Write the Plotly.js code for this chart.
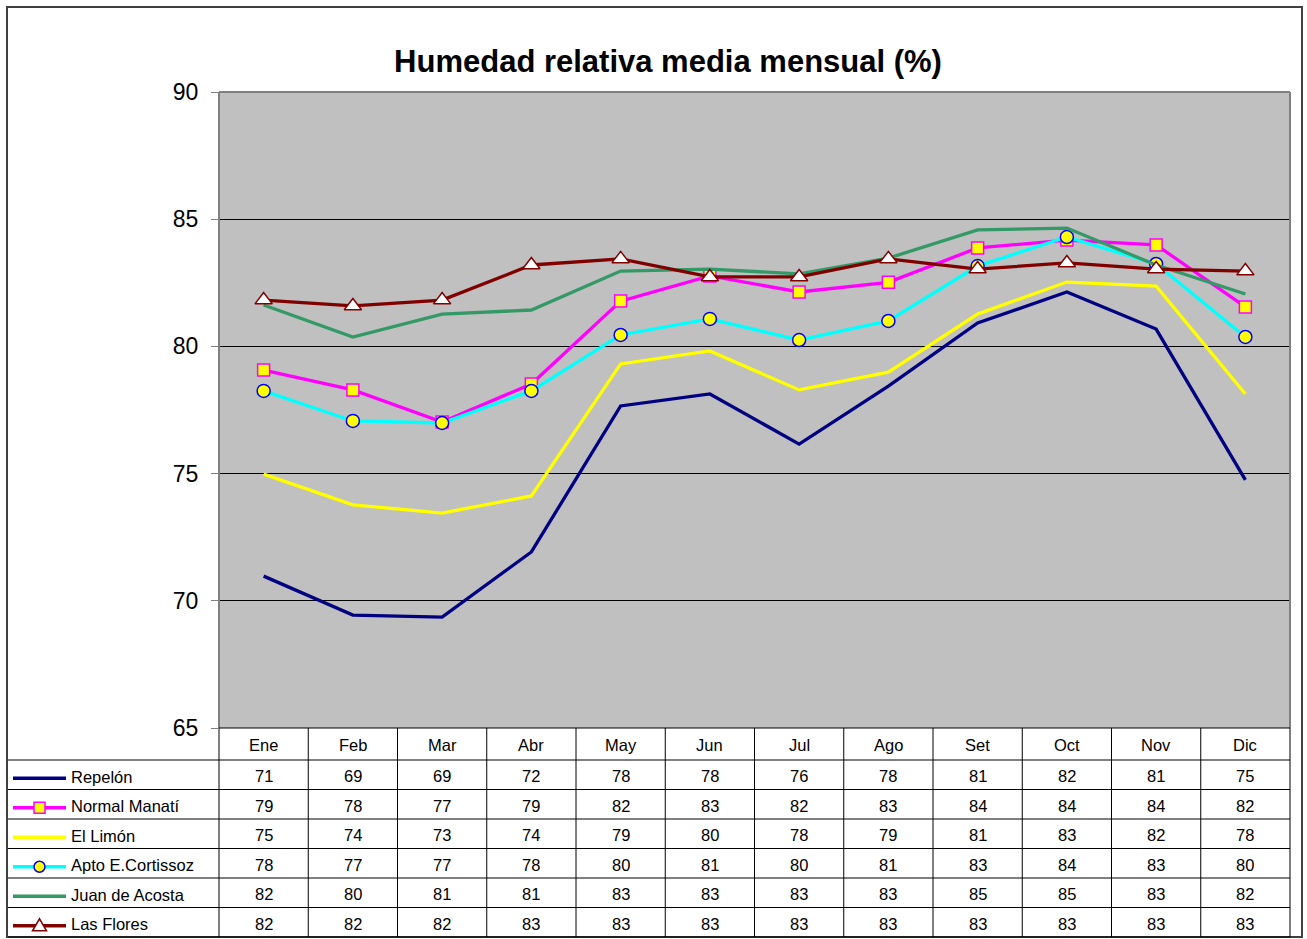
<!DOCTYPE html>
<html>
<head>
<meta charset="utf-8">
<script src="https://cdn.plot.ly/plotly-3.0.1.min.js"></script>
<style>html,body{margin:0;padding:0;background:#fff;}#chart{width:1307px;height:939px;}</style>
</head>
<body>
<div id="chart"></div>
<script>
const months = ['Ene','Feb','Mar','Abr','May','Jun','Jul','Ago','Set','Oct','Nov','Dic'];
const repelon = [70.97,69.44,69.36,71.92,77.66,78.13,76.16,78.44,80.92,82.14,80.68,74.75];
const normalManati = [79.07,78.29,77.03,78.52,81.78,82.77,82.14,82.52,83.87,84.18,83.99,81.55];
const elLimon = [74.98,73.77,73.45,74.12,79.31,79.82,78.29,78.99,81.27,82.53,82.37,78.13];
const aptoCortissoz = [78.25,77.07,76.99,78.25,80.45,81.08,80.25,81.00,83.16,84.30,83.24,80.37];
const juanDeAcosta = [81.63,80.37,81.27,81.43,82.96,83.04,82.85,83.47,84.58,84.65,83.20,82.06];
const lasFlores = [81.82,81.59,81.82,83.20,83.44,82.73,82.73,83.44,83.04,83.28,83.04,82.96];
const seriesNames = ['Repelón','Normal Manatí','El Limón','Apto E.Cortissoz','Juan de Acosta','Las Flores'];
const titleText = 'Humedad relativa media mensual (%)';

const FONT = 'Arial, "Liberation Sans", sans-serif';
const W = 1307, H = 939, L = 219, R = 1290, T = 92, B = 728;
const px = x => (x - L) / (R - L);
const py = y => (B - y) / (B - T);

const styles = [
  {color:'#000080', marker:null},
  {color:'#FF00FF', marker:{symbol:'square', size:12, color:'#FFFF00', line:{color:'#FF00FF', width:1.5}}},
  {color:'#FFFF00', marker:null},
  {color:'#00FFFF', marker:{symbol:'circle', size:13, color:'#FFFF00', line:{color:'#0000FF', width:1.5}}},
  {color:'#339966', marker:null},
  {color:'#800000', marker:{symbol:'triangle-up', size:15, color:'#FFFFFF', line:{color:'#800000', width:1.5}}}
];
const seriesData = [repelon, normalManati, elLimon, aptoCortissoz, juanDeAcosta, lasFlores];

const traces = seriesData.map((vals, i) => {
  const t = {
    type:'scatter', x: months, y: vals, name: seriesNames[i],
    mode: styles[i].marker ? 'lines+markers' : 'lines',
    line:{color: styles[i].color, width:3.3},
    hoverinfo:'x+y+name'
  };
  if (styles[i].marker) t.marker = styles[i].marker;
  return t;
});

const shapes = [];
const annotations = [];
function line(x0,y0,x1,y1,color,width){
  shapes.push({type:'line', xref:'paper', yref:'paper', x0:px(x0), y0:py(y0), x1:px(x1), y1:py(y1), line:{color:color, width:width}});
}
// outer chart border
shapes.push({type:'rect', xref:'paper', yref:'paper', x0:px(7), x1:px(1302), y0:py(7), y1:py(937), line:{color:'#404040', width:2}});
// plot area border
line(L, T, R, T, '#808080', 2);
line(L, T, L, B, '#808080', 2);
line(R, T, R, B, '#808080', 2);
line(L, B, R, B, '#000000', 1);

// table geometry
const headerBottom = 760;
const rowH = 29.5;
const tableBottom = 937;
const colW = (R - L) / months.length;
for (let k = 0; k <= months.length; k++) {
  const xx = L + k * colW;
  line(xx, B, xx, tableBottom, '#000000', 1);
}
for (let r = 0; r < seriesNames.length; r++) {
  const yy = headerBottom + r * rowH;
  line(8, yy, R, yy, '#000000', 1);
}
line(8, tableBottom, R, tableBottom, '#000000', 1);

const TF = {family:FONT, size:16.5, color:'#000'};
// header months
months.forEach((m, i) => {
  annotations.push({xref:'x', yref:'paper', x:m, y:py(745), text:m, showarrow:false,
    xanchor:'center', yanchor:'middle', font:TF});
});

// rows
seriesNames.forEach((name, r) => {
  const cy = headerBottom + r * rowH + rowH / 2;
  annotations.push({xref:'paper', yref:'paper', x:px(69), y:py(cy+2), text:name, showarrow:false,
    xanchor:'left', yanchor:'middle', font:TF});
  seriesData[r].forEach((v, i) => {
    annotations.push({xref:'x', yref:'paper', x:months[i], y:py(cy+1.5), text:String(Math.round(v)), showarrow:false,
      xanchor:'center', yanchor:'middle', font:TF});
  });
  // legend key
  const ly = cy + 3.5;
  line(13, ly, 66, ly, styles[r].color, 3.5);
  const mx = 39.5, s = 5.5;
  const mk = styles[r].marker;
  if (mk && mk.symbol === 'square') {
    shapes.push({type:'rect', xref:'paper', yref:'paper', x0:px(mx-s), x1:px(mx+s), y0:py(ly-s), y1:py(ly+s),
      fillcolor:mk.color, line:{color:mk.line.color, width:1.5}});
  } else if (mk && mk.symbol === 'circle') {
    shapes.push({type:'circle', xref:'paper', yref:'paper', x0:px(mx-s), x1:px(mx+s), y0:py(ly-s), y1:py(ly+s),
      fillcolor:mk.color, line:{color:mk.line.color, width:1.5}});
  } else if (mk && mk.symbol === 'triangle-up') {
    const p = `M ${px(mx-7)},${py(ly+5)} L ${px(mx+7)},${py(ly+5)} L ${px(mx)},${py(ly-7)} Z`;
    shapes.push({type:'path', xref:'paper', yref:'paper', path:p, fillcolor:mk.color, line:{color:mk.line.color, width:1.5}});
  }
});

const layout = {
  width: W, height: H, autosize:false,
  margin:{l:L, r:W-R, t:T, b:H-B, pad:0},
  paper_bgcolor:'#FFFFFF', plot_bgcolor:'#C0C0C0',
  showlegend:false,
  font:{family:FONT, color:'#000'},
  title:{text:'<b>'+titleText+'</b>', font:{family:FONT, size:31, color:'#000'},
    x:668/W, xref:'container', xanchor:'center', y:1-61/H, yref:'container', yanchor:'middle'},
  xaxis:{type:'category', range:[-0.5, months.length-0.5], showticklabels:false, ticks:'',
    showgrid:false, zeroline:false, showline:false, fixedrange:true},
  yaxis:{range:[65,90], tick0:65, dtick:5, ticks:'outside', ticklen:7, tickcolor:'#808080', tickwidth:1,
    showgrid:true, gridcolor:'#000000', gridwidth:1, zeroline:false, showline:false,
    tickfont:{family:FONT, size:23, color:'#000'}, ticklabelstandoff:8, fixedrange:true},
  shapes: shapes,
  annotations: annotations
};

Plotly.newPlot('chart', traces, layout, {displayModeBar:false, staticPlot:true});
</script>
</body>
</html>
